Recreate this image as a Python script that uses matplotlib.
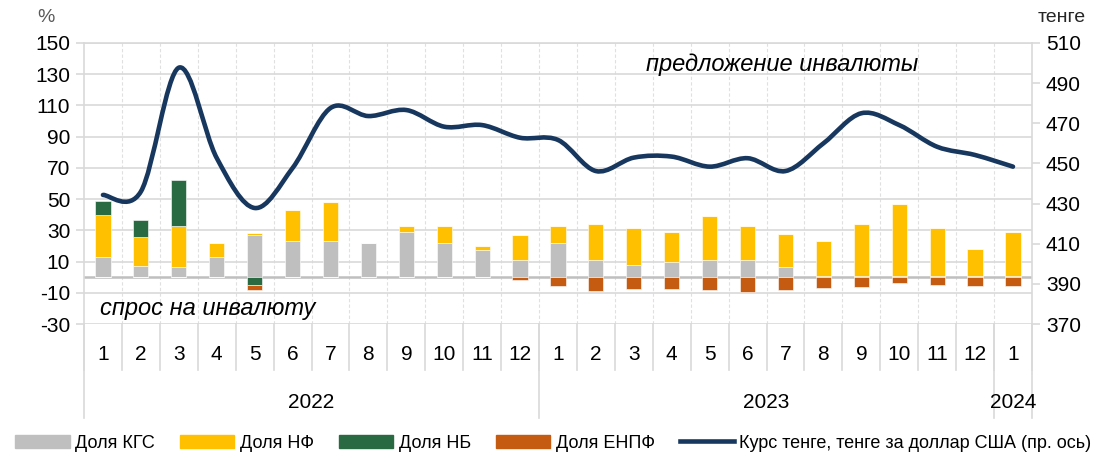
import matplotlib.pyplot as plt
from matplotlib.path import Path
from matplotlib.patches import PathPatch, Patch
from matplotlib.lines import Line2D
import numpy as np

plt.rcParams['font.family'] = ['Liberation Sans', 'DejaVu Sans']
plt.rcParams['axes.unicode_minus'] = False

months = ['1', '2', '3', '4', '5', '6', '7', '8', '9', '10', '11', '12',
          '1', '2', '3', '4', '5', '6', '7', '8', '9', '10', '11', '12', '1']
years = ['2022', '2023', '2024']
year_len = [12, 12, 1]

# доли, % (левая ось)
kgs = [13, 7, 6.5, 13, 27.3, 23, 23, 21.6, 29, 21.8, 17.1, 10.9,
       21.8, 11.1, 7.9, 9.6, 11.3, 11.3, 6.6, 1, 1, 1, 1, 1, 1]
nf = [27, 19, 26.5, 9, 0.7, 20, 25, 0, 4, 10.7, 2.6, 15.8,
      11, 22.9, 23.3, 19.4, 27.6, 21.4, 20.9, 22.3, 33, 45.6, 30.2, 17.1, 28]
nb = [9, 10.5, 29, 0, -5.1, 0, 0, 0, 0, 0, 0, 0,
      0, 0, 0, 0, 0, 0, 0, 0, 0, 0, 0, 0, 0]
enpf = [0, 0, 0, 0, -3.4, 0, 0, 0, 0, 0, 0, -1.5,
        -5.8, -8.8, -7.5, -7.7, -8.5, -9.6, -8.5, -7, -6.2, -4, -4.9, -5.6, -5.8]
# курс тенге за доллар США (правая ось)
rate = [434.3, 436, 497.7, 452.7, 427.8, 447.7, 477.6, 473.6, 476.6, 468.3, 469.1, 462.8,
        461.7, 446.2, 452.9, 453.4, 448.4, 452.6, 446.2, 460, 475, 469.1, 458.3, 454.2, 448.4]

c_kgs = '#BFBFBF'
c_nf = '#FFC000'
c_nb = '#2A6A42'
c_enpf = '#C55A11'
c_line = '#17375E'
grid_c = '#D9D9D9'


def smooth_path(x, y):
    # кривая Безье как "сглаженная линия" в Excel
    x = np.asarray(x, float)
    y = np.asarray(y, float)
    n = len(x)
    verts = [(x[0], y[0])]
    codes = [Path.MOVETO]
    for i in range(n - 1):
        i0 = max(i - 1, 0)
        i3 = min(i + 2, n - 1)
        c1 = (x[i] + (x[i + 1] - x[i0]) / 6, y[i] + (y[i + 1] - y[i0]) / 6)
        c2 = (x[i + 1] - (x[i3] - x[i]) / 6, y[i + 1] - (y[i3] - y[i]) / 6)
        verts += [c1, c2, (x[i + 1], y[i + 1])]
        codes += [Path.CURVE4] * 3
    return Path(verts, codes)


fig = plt.figure(figsize=(11.07, 4.54), dpi=100)
ax = fig.add_axes([0.0759, 0.2863, 0.8563, 0.619])
x = np.arange(len(months))
w = 0.4

kgs_a = np.array(kgs)
nf_a = np.array(nf)
nb_a = np.array(nb)
enpf_a = np.array(enpf)

pos_nb = np.clip(nb_a, 0, None)
neg_nb = np.clip(nb_a, None, 0)
ax.bar(x, kgs_a, w, color=c_kgs, edgecolor='white', linewidth=0.4, zorder=3)
ax.bar(x, nf_a, w, bottom=kgs_a, color=c_nf, edgecolor='white', linewidth=0.4, zorder=3)
ax.bar(x, pos_nb, w, bottom=kgs_a + nf_a, color=c_nb, edgecolor='white', linewidth=0.4, zorder=3)
ax.bar(x, neg_nb, w, color=c_nb, edgecolor='white', linewidth=0.4, zorder=3)
ax.bar(x, enpf_a, w, bottom=neg_nb, color=c_enpf, edgecolor='white', linewidth=0.4, zorder=3)

ax.set_xlim(-0.5, len(months) - 0.5)
ax.set_ylim(-30, 150)
ax.set_yticks(np.arange(-30, 151, 20))
ax.yaxis.grid(True, color=grid_c, linewidth=1.2, zorder=0)
for b in np.arange(0.5, len(months) - 0.5, 1):
    ax.axvline(b, color='#E0E0E0', linewidth=0.8, linestyle=(0, (3, 2)), zorder=0)
ax.axhline(0, color='#BFBFBF', linewidth=1.8, zorder=2)
ax.set_xticks([])
ax.tick_params(axis='y', labelsize=15, length=6, width=1.2, color=grid_c, pad=4)
for s in ['left', 'right', 'bottom', 'top']:
    ax.spines[s].set_color(grid_c)
    ax.spines[s].set_linewidth(1.2)
ax.spines['bottom'].set_visible(False)

# подписи категорий
tr = ax.get_xaxis_transform()
for i, m in enumerate(months):
    ax.text(i, -0.11, m, transform=tr, ha='center', va='center', fontsize=15)
for b in np.arange(-0.5, len(months), 1):
    ax.plot([b, b], [0, -0.165], transform=tr, color=grid_c, lw=1.2, clip_on=False)
start = -0.5
for yr, n in zip(years, year_len):
    ax.text(start + n / 2, -0.278, yr, transform=tr, ha='center', va='center', fontsize=15)
    ax.plot([start, start], [0, -0.335], transform=tr, color=grid_c, lw=1.2, clip_on=False)
    start += n
ax.plot([start, start], [0, -0.335], transform=tr, color=grid_c, lw=1.2, clip_on=False)

ax2 = ax.twinx()
ax2.set_ylim(370, 510)
ax2.set_yticks(np.arange(370, 511, 20))
ax2.add_patch(PathPatch(smooth_path(x, rate), facecolor='none', edgecolor=c_line,
                        linewidth=3.3, capstyle='round', joinstyle='round', zorder=5))
ax2.tick_params(axis='y', labelsize=15, length=6, width=1.2, color=grid_c, pad=4)
for s in ['left', 'right', 'bottom', 'top']:
    ax2.spines[s].set_visible(False)

ax.text(-0.08, -20, 'спрос на инвалюту', fontsize=17, style='italic', ha='left', va='center', zorder=6)
ax.text(17.9, 136, 'предложение инвалюты', fontsize=17, style='italic', ha='center', va='center', zorder=6)

fig.text(46 / 1107, 1 - 18 / 454, '%', fontsize=14, color='#595959', ha='center', va='center')
fig.text(1062 / 1107, 1 - 18 / 454, 'тенге', fontsize=14, color='#262626', ha='center', va='center')

handles = [Patch(color=c_kgs), Patch(color=c_nf), Patch(color=c_nb), Patch(color=c_enpf),
           Line2D([0], [0], color=c_line, lw=3.3)]
labels = ['Доля КГС', 'Доля НФ', 'Доля НБ', 'Доля ЕНПФ', 'Курс тенге, тенге за доллар США (пр. ось)']
fig.legend(handles, labels, loc='center', bbox_to_anchor=(0.5, 1 - 443 / 454), ncol=5,
           frameon=False, fontsize=13, handlelength=3.0, handleheight=0.75,
           columnspacing=1.4, handletextpad=0.3, borderaxespad=0)

fig.savefig('out.png', dpi=100)
